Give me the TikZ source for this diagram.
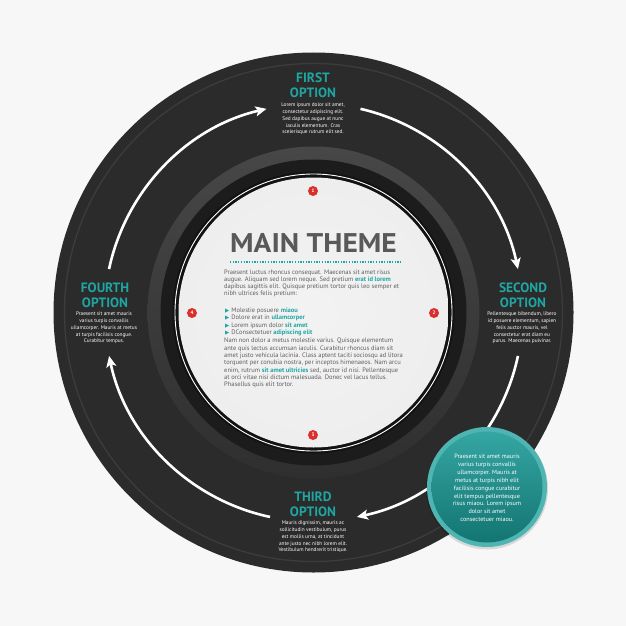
\documentclass[tikz,border=0pt]{standalone}
\usepackage{fontspec}
\setmainfont{PT Sans}
\newfontfamily\symfont{DejaVu Sans}
\usetikzlibrary{arrows.meta}
\definecolor{bgc}{HTML}{F7F7F7}
\definecolor{diskc}{HTML}{2B2B2B}
\definecolor{rimc}{HTML}{3C3C3C}
\definecolor{bandtop}{HTML}{474747}
\definecolor{bandbot}{HTML}{2F2F2F}
\definecolor{innerc}{HTML}{1C1C1C}
\definecolor{gapc}{HTML}{121212}
\definecolor{tealc}{HTML}{1FA6A3}
\definecolor{tealrim}{HTML}{4FB5B2}
\definecolor{tealtop}{HTML}{35A6A3}
\definecolor{tealbot}{HTML}{137572}
\definecolor{grayt}{HTML}{595959}
\definecolor{bodyt}{HTML}{5E5E5E}
\definecolor{redc}{HTML}{D9302E}
\pgfdeclareradialshading{diskshade}{\pgfpoint{0bp}{0bp}}{color(0bp)=(white!95!black); color(30bp)=(white!93!black); color(44bp)=(white!90!black); color(50bp)=(white!85!black)}
\newcommand{\tl}[1]{\textcolor{tealc}{\bfseries #1}}
\newcommand{\bul}{{\symfont\textcolor{tealc}{\fontsize{5.5}{5.5}\selectfont ▶}}\hspace{2pt}}
\begin{document}
\begin{tikzpicture}[x=1pt,y=-1pt,
  opttitle/.style={align=center,inner sep=0pt,anchor=north,text=tealc,font=\fontsize{13.5}{15}\selectfont\bfseries},
  optbody/.style={align=center,inner sep=0pt,anchor=north,text=white,font=\fontsize{5.3}{6.75}\selectfont},
  mainbody/.style={align=left,inner sep=0pt,anchor=north west,text=bodyt,font=\fontsize{6.5}{7.2}\selectfont},
  flowarrow/.style={draw=white,line width=2.6pt,-{Stealth[length=11pt,width=10pt,inset=2.5pt]}},
  numdot/.style={circle,fill=redc,minimum size=10pt,inner sep=0pt,text=white,font=\fontsize{5}{5}\selectfont\bfseries}
]
\useasboundingbox (0,0) rectangle (626,626);
\fill[bgc] (0,0) rectangle (626,626);
\coordinate (c) at (313.5,312.5);
% outer disk
\fill[diskc] (c) circle[radius=260];
\draw[rimc,line width=1.3pt] (c) circle[radius=249];
% arrows
\path (c) ++(-168:209) coordinate (a1s);
\path (c) ++(-77:209) coordinate (a2s);
\path (c) ++(12:209) coordinate (a3s);
\path (c) ++(102:209) coordinate (a4s);
\draw[flowarrow] (a1s) arc[start angle=-168,end angle=-103,radius=209];
\draw[flowarrow] (a2s) arc[start angle=-77,end angle=-12,radius=209];
\draw[flowarrow] (a3s) arc[start angle=12,end angle=78,radius=209];
\draw[flowarrow] (a4s) arc[start angle=102,end angle=168,radius=209];
% inner rings
\shade[top color=bandtop,bottom color=bandbot] (c) circle[radius=166];
\fill[innerc] (c) circle[radius=153];
\fill[gapc] (c) circle[radius=141];
\draw[white,line width=0.9pt] (c) circle[radius=138.5];
\shade[shading=diskshade] (c) circle[radius=135];
% numbered dots
\node[numdot] (n1) at (313,191) {1};
\node[numdot] (n2) at (434,313) {2};
\node[numdot] (n3) at (313,435) {3};
\node[numdot] (n4) at (192,313) {4};
% main theme
\node[inner sep=0pt,anchor=north,text=grayt,font=\fontsize{27}{27}\selectfont\bfseries] (mt) at (313.5,233) {\scalebox{1.09}[1]{MAIN THEME}};
\coordinate (dl) at (230,262);
\coordinate (dr) at (402,262);
\draw[tealc,line width=1.3pt,dash pattern=on 1.3pt off 1.4pt] (dl) -- (dr);
\node[mainbody] (p1) at (224,269.5) {Praesent luctus rhoncus consequat. Maecenas sit amet risus\\augue. Aliquam sed lorem neque. Sed pretium \tl{erat id lorem}\\dapibus sagittis elit. Quisque pretium tortor quis leo semper et\\nibh ultrices felis pretium:};
\node[mainbody,font=\fontsize{6.5}{7.4}\selectfont] (p2) at (225,307.5) {\bul Molestie posuere \tl{miaou}\\\bul Dolore erat in \tl{ullamcorper}\\\bul Lorem ipsum dolor \tl{sit amet}\\\bul DConsectetuer \tl{adipiscing elit}};
\node[mainbody,font=\fontsize{6.5}{7.3}\selectfont] (p3) at (224,338) {Nam non dolor a metus molestie varius. Quisque elementum\\ante quis lectus accumsan iaculis. Curabitur rhoncus diam sit\\amet justo vehicula lacinia. Class aptent taciti sociosqu ad litora\\torquent per conubia nostra, per inceptos himenaeos. Nam arcu\\enim, rutrum \tl{sit amet ultricies} sed, auctor id nisi. Pellentesque\\at orci vitae nisi dictum malesuada. Donec vel lacus tellus.\\Phasellus quis elit tortor.};
% options
\node[opttitle] (t1) at (313,73) {FIRST\\OPTION};
\node[optbody] (b1) at (313,103) {Lorem ipsum dolor sit amet,\\consectetur adipiscing elit.\\Sed dapibus augue at nunc\\iaculis elementum. Cras\\scelerisque rutrum elit sed.};
\node[opttitle] (t2) at (523,283) {SECOND\\OPTION};
\node[optbody] (b2) at (522,312) {Pellentesque bibendum, libero\\id posuere elementum, sapien\\felis auctor mauris, vel\\consectetur erat diam eu\\purus. Maecenas pulvinar.};
\node[opttitle] (t3) at (313,492) {THIRD\\OPTION};
\node[optbody] (b3) at (313,521) {Mauris dignissim, mauris ac\\sollicitudin vestibulum, purus\\est mollis urna, at tincidunt\\ante justo nec nibh lorem elit.\\Vestibulum hendrerit tristique.};
\node[opttitle] (t4) at (105,283) {FOURTH\\OPTION};
\node[optbody] (b4) at (104,312) {Praesent sit amet mauris\\varius turpis convallis\\ullamcorper. Mauris at metus\\at turpis facilisis congue.\\Curabitur tempus.};
% teal circle
\coordinate (tc) at (487,487);
\fill[black,opacity=0.12] (487,488.5) circle[radius=61];
\fill[tealrim] (tc) circle[radius=60];
\shade[top color=tealtop,bottom color=tealbot] (tc) circle[radius=55.5];
\node[align=center,inner sep=0pt,anchor=north,text=white,font=\fontsize{6.2}{7.9}\selectfont] (tt) at (487,454) {Praesent sit amet mauris\\varius turpis convallis\\ullamcorper. Mauris at\\metus at turpis nibh elit\\facilisis congue curabitur\\elit tempus pellentesque\\risus miaou. Lorem ipsum\\dolor sit amet\\consectetuer miaou.};
\end{tikzpicture}
\end{document}
